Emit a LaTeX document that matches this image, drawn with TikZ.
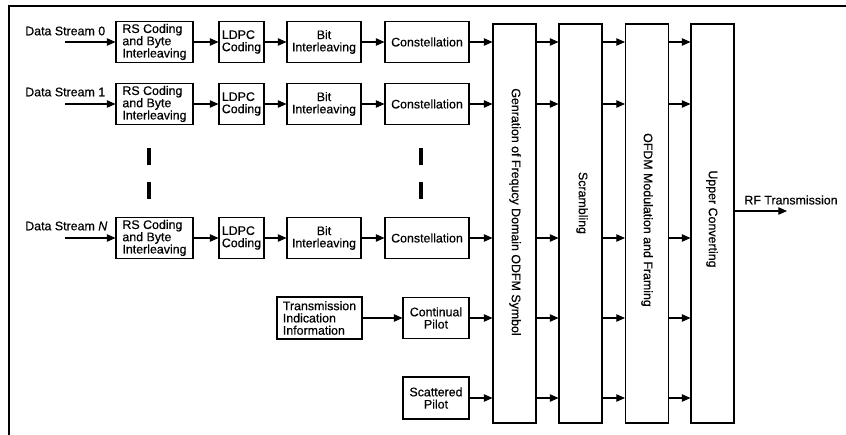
\documentclass[tikz,border=0pt]{standalone}
\usepackage{fontspec}
\setmainfont{Liberation Sans}[FakeBold=0.5]
\usetikzlibrary{arrows.meta}

\begin{document}
\begin{tikzpicture}[x=0.75pt,y=0.75pt,yscale=-1,
    font=\fontsize{9.3}{9.2}\selectfont,
    blockbox/.style={draw, line width=0.8pt, inner sep=1pt, minimum height=30.75pt},
    colbox/.style={draw, line width=0.8pt, minimum width=32.25pt, minimum height=299.25pt},
    arr/.style={-{Triangle[length=6.5pt,width=5.6pt]}, line width=0.8pt},
    vlabel/.style={rotate=-90, inner sep=0pt}]

    \useasboundingbox (0,0) rectangle (846,435);
    \draw [line width=1.1pt] (9,435) -- (9,6) -- (846,6);

    % stream 0
    \draw (25,31) node [anchor=west, inner sep=0pt] (ds0) {Data Stream 0};
    \coordinate (in0) at (65,42);
    \draw (154.5,42) node [blockbox, minimum width=57.75pt, align=left] (rs0) {RS Coding\\and Byte\\Interleaving};
    \draw (241.5,42) node [blockbox, minimum width=33.75pt, align=left] (ldpc0) {LDPC\\Coding};
    \draw (324,42) node [blockbox, minimum width=55.5pt, align=center] (bit0) {Bit\\Interleaving};
    \draw (427,42) node [blockbox, minimum width=63pt] (con0) {Constellation};

    % stream 1
    \draw (25,92) node [anchor=west, inner sep=0pt] (ds1) {Data Stream 1};
    \coordinate (in1) at (65,104);
    \draw (154.5,104) node [blockbox, minimum width=57.75pt, align=left] (rs1) {RS Coding\\and Byte\\Interleaving};
    \draw (241.5,104) node [blockbox, minimum width=33.75pt, align=left] (ldpc1) {LDPC\\Coding};
    \draw (324,104) node [blockbox, minimum width=55.5pt, align=center] (bit1) {Bit\\Interleaving};
    \draw (427,104) node [blockbox, minimum width=63pt] (con1) {Constellation};

    % stream N
    \draw (25,226) node [anchor=west, inner sep=0pt] (dsn) {Data Stream \textit{N}};
    \coordinate (inn) at (65,238);
    \draw (154.5,238) node [blockbox, minimum width=57.75pt, align=left] (rsn) {RS Coding\\and Byte\\Interleaving};
    \draw (241.5,238) node [blockbox, minimum width=33.75pt, align=left] (ldpcn) {LDPC\\Coding};
    \draw (324,238) node [blockbox, minimum width=55.5pt, align=center] (bitn) {Bit\\Interleaving};
    \draw (427,238) node [blockbox, minimum width=63pt] (conn) {Constellation};

    % pilots
    \draw (319.5,318) node [blockbox, minimum width=63.75pt, minimum height=31.5pt, align=left] (tii) {Transmission\\Indication\\Information};
    \draw (436,318) node [blockbox, minimum width=49.5pt, align=center] (cp) {Continual\\Pilot};
    \draw (436,398) node [blockbox, minimum width=49.5pt, minimum height=31.5pt, align=center] (sp) {Scattered\\Pilot};

    % dots between streams
    \draw [line width=3pt] (149,148) -- (149,165) (149,182) -- (149,199);
    \draw [line width=3pt] (421,148) -- (421,165) (421,182) -- (421,199);

    % column blocks
    \draw (514.5,223.5) node [colbox] (gen) {};
    \draw (580.5,223.5) node [colbox] (scr) {};
    \draw (647,223.5) node [colbox] (ofdm) {};
    \draw (712.5,223.5) node [colbox] (up) {};
    \draw (515,212) node [vlabel] (genlbl) {Genration of Frequcy Domain ODFM Symbol};
    \draw (582,203) node [vlabel] (scrlbl) {Scrambling};
    \draw (647,220) node [vlabel] (ofdmlbl) {OFDM Modulation and Framing};
    \draw (712,219) node [vlabel] (uplbl) {Upper Converting};

    \draw (791,200) node [inner sep=0pt] (rf) {RF Transmission};
    \coordinate (out) at (787,211);

    % connectors
    \draw [arr] (in0) -- (rs0);
    \draw [arr] (rs0) -- (ldpc0);
    \draw [arr] (ldpc0) -- (bit0);
    \draw [arr] (bit0) -- (con0);
    \draw [arr] (con0) -- (gen.west |- con0);
    \draw [arr] (in1) -- (rs1);
    \draw [arr] (rs1) -- (ldpc1);
    \draw [arr] (ldpc1) -- (bit1);
    \draw [arr] (bit1) -- (con1);
    \draw [arr] (con1) -- (gen.west |- con1);
    \draw [arr] (inn) -- (rsn);
    \draw [arr] (rsn) -- (ldpcn);
    \draw [arr] (ldpcn) -- (bitn);
    \draw [arr] (bitn) -- (conn);
    \draw [arr] (conn) -- (gen.west |- conn);
    \draw [arr] (tii) -- (cp);
    \draw [arr] (cp) -- (gen.west |- cp);
    \draw [arr] (sp) -- (gen.west |- sp);
    \foreach \y in {42,104,238,318,398} {
        \draw [arr] (gen.east |- 0,\y) -- (scr.west |- 0,\y);
        \draw [arr] (scr.east |- 0,\y) -- (ofdm.west |- 0,\y);
        \draw [arr] (ofdm.east |- 0,\y) -- (up.west |- 0,\y);
    }
    \draw [arr] (up.east |- out) -- (out);

\end{tikzpicture}
\end{document}
